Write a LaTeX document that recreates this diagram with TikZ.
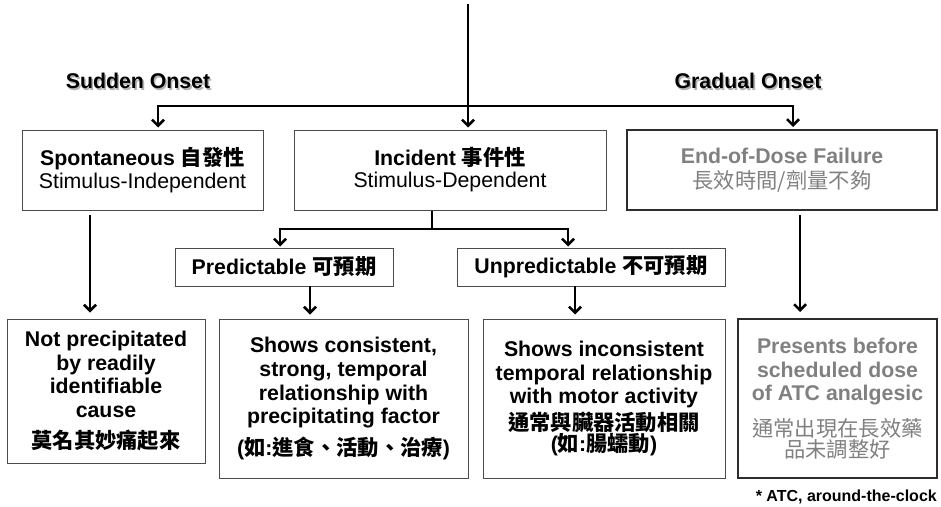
\documentclass[tikz,border=0pt]{standalone}
\usepackage{fontspec}
\setmainfont{Liberation Sans}
\newfontfamily\cjk{Noto Sans CJK TC}
\usetikzlibrary{arrows.meta}
\definecolor{graytxt}{RGB}{128,128,128}
\definecolor{boxline}{RGB}{75,75,75}
\definecolor{darkline}{RGB}{45,45,45}
\begin{document}
\begin{tikzpicture}[x=1pt,y=-1pt,
  txt/.style={font=\fontsize{21.3}{23.7}\selectfont, align=center, inner sep=0pt},
  box/.style={txt, draw=boxline, line width=1pt},
  bbox/.style={box, font=\fontsize{21.3}{23.7}\selectfont\bfseries},
  gbox/.style={txt, draw=darkline, line width=2pt, text=graytxt},
  plain/.style={line width=2.5pt},
  conn/.style={line width=2.5pt, -{Straight Barb[length=6pt,width=12pt]}},
  onset/.style={font=\fontsize{21.3}{23.7}\selectfont\bfseries, inner sep=0pt},
  shade/.style={onset, text=black!30}
]
\useasboundingbox (0,0) rectangle (941,506);

% onset labels with soft shadow
\node[shade] (sshadow) at (139.6,83) {Sudden Onset};
\node[onset] (sudden) at (138,81) {Sudden Onset};
\node[shade] (gshadow) at (749.6,83) {Gradual Onset};
\node[onset] (gradual) at (748,81) {Gradual Onset};

% top row boxes
\node[box, minimum width=241pt, minimum height=80pt] (spont) at (142.5,170)
  {\textbf{Spontaneous {\cjk 自發性}}\\[-1.5pt]Stimulus-Independent};
\node[box, minimum width=312pt, minimum height=80pt] (inc) at (450,170)
  {\textbf{Incident {\cjk 事件性}}\\[-1.5pt]Stimulus-Dependent};
\node[gbox, minimum width=310pt, minimum height=80pt] (eod) at (782,170)
  {\textbf{End-of-Dose Failure}\\[1pt]{\cjk 長效時間/劑量不夠}};

% middle row
\node[bbox, minimum width=218pt, minimum height=38pt] (pred) at (284,267)
  {Predictable {\cjk 可預期}};
\node[bbox, minimum width=268pt, minimum height=38pt] (unpred) at (591,267)
  {Unpredictable {\cjk 不可預期}};

% bottom row
\node[bbox, minimum width=198pt, minimum height=144pt] (notp) at (106,391)
  {Not precipitated\\by readily\\identifiable\\cause\\[7.5pt]{\cjk 莫名其妙痛起來}};
\node[bbox, minimum width=249pt, minimum height=159pt] (cons) at (343.5,398.5)
  {Shows consistent,\\strong, temporal\\relationship with\\precipitating factor\\[8pt]({\cjk 如}:{\cjk 進食、活動、治療})};
\node[bbox, minimum width=242pt, minimum height=159pt] (incons) at (604,398.5)
  {Shows inconsistent\\temporal relationship\\with motor activity\\[3pt]{\cjk 通常與臟器活動相關}\\[-2.5pt]({\cjk 如}:{\cjk 腸蠕動})};
\node[gbox, minimum width=199pt, minimum height=159pt] (pres) at (837.5,398.5)
  {\textbf{Presents before}\\\textbf{scheduled dose}\\\textbf{of ATC analgesic}\\[12pt]{\cjk 通常出現在長效藥}\\[-3pt]{\cjk 品未調整好}};

% footnote
\node[font=\fontsize{16}{18}\selectfont\bfseries, inner sep=0pt, anchor=east] (foot) at (937,497)
  {* ATC, around-the-clock};

% connectors
\coordinate (top) at (468,4);
\coordinate (hl) at (158,106);
\coordinate (hr) at (793,106);
\draw[conn, shorten >=2pt] (top) -- (top |- inc.north);
\draw[conn, shorten >=2pt] (hr) -- (hl) -- (hl |- spont.north);
\draw[conn, shorten >=2pt] (hl) -- (hr) -- (hr |- eod.north);

\coordinate (s1) at (90,215);
\draw[conn, shorten >=6pt] (s1) -- (s1 |- notp.north);

\coordinate (ib) at (432,229);
\coordinate (bl) at (280,229);
\coordinate (br) at (568,229);
\draw[plain] (ib |- inc.south) -- (ib);
\draw[conn, shorten >=1pt] (br) -- (bl) -- (bl |- pred.north);
\draw[conn, shorten >=1pt] (bl) -- (br) -- (br |- unpred.north);

\coordinate (p1) at (310,286);
\draw[conn, shorten >=4pt] (p1) -- (p1 |- cons.north);
\coordinate (u1) at (575,286);
\draw[conn, shorten >=4pt] (u1) -- (u1 |- incons.north);

\coordinate (e1) at (800,215);
\draw[conn, shorten >=6pt] (e1) -- (e1 |- pres.north);
\end{tikzpicture}
\end{document}
